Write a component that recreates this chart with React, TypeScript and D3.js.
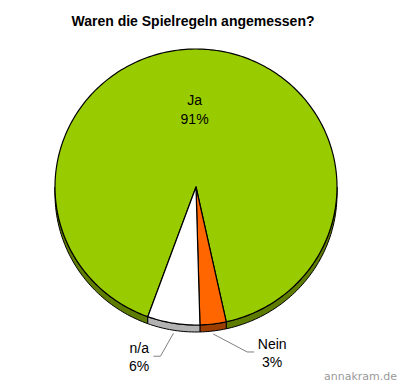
import * as d3 from 'd3';

// chart data
const categories = ['Ja', 'Nein', 'n/a'];
const values = [91, 3, 6];
const percentLabels = ['91%', '3%', '6%'];
const topColors = ['#99cc00', '#ff6600', '#ffffff'];
const sideColors = ['#5e7d00', '#9c3e00', '#b2b2b2'];

const title = 'Waren die Spielregeln angemessen?';

// layout
const width = 400;
const height = 384;
const cx = 196;
const cy = 187;
const rx = 141;
const ry = 138;
const depth = 7;
const startDeg = 200;

type Slice = d3.PieArcDatum<number>;

const pt = (t: number, dy = 0): [number, number] => [cx + rx * Math.sin(t), cy - ry * Math.cos(t) + dy];

function arcPoints(a0: number, a1: number, dy = 0) {
    const n = Math.max(2, Math.ceil(Math.abs(a1 - a0) / 0.02));
    const pts: [number, number][] = [];
    for (let i = 0; i <= n; i++) pts.push(pt(a0 + ((a1 - a0) * i) / n, dy));
    return pts;
}

function topPath(d: Slice) {
    const pts = arcPoints(d.startAngle, d.endAngle);
    return `M${cx},${cy}` + pts.map(p => `L${p[0]},${p[1]}`).join('') + 'Z';
}

// visible front wall of a slice (parametric angles between 90° and 270°)
function sidePaths(d: Slice) {
    const out: string[] = [];
    for (const base of [0, 2 * Math.PI]) {
        const s = Math.max(d.startAngle, base + Math.PI / 2);
        const e = Math.min(d.endAngle, base + (3 * Math.PI) / 2);
        if (e <= s) continue;
        const upper = arcPoints(s, e);
        const lower = arcPoints(e, s, depth);
        out.push('M' + upper.concat(lower).map(p => `${p[0]},${p[1]}`).join('L') + 'Z');
    }
    return out;
}

// leader elbow offsets, relative to the slice's outer edge
const labelOffsets: Record<string, [number, number]> = {
    Nein: [34, 18],
    'n/a': [-13, 23],
};

export default function App() {
    const pie = d3.pie<number>()
        .sort(null)
        .value(d => d)
        .startAngle((startDeg * Math.PI) / 180)
        .endAngle(((startDeg + 360) * Math.PI) / 180);
    const arcs = pie(values);
    const font = '"Liberation Sans", Arial, sans-serif';

    return (
        <svg width={width} height={height} style={{ position: 'absolute', left: 0, top: 0, background: '#fff' }}>
            <text x={193} y={26} textAnchor="middle" fontFamily={font} fontWeight="bold" fontSize={14} fill="#000">
                {title}
            </text>
            {/* sides */}
            {arcs.map((d, i) =>
                sidePaths(d).map((p, j) => (
                    <path key={`s${i}-${j}`} d={p} fill={sideColors[i]} stroke="#000" strokeWidth={1} strokeLinejoin="round" />
                ))
            )}
            {/* tops */}
            {arcs.map((d, i) => (
                <path key={`t${i}`} d={topPath(d)} fill={topColors[i]} stroke="#000" strokeWidth={1.2} strokeLinejoin="round" />
            ))}
            {/* labels */}
            {arcs.map((d, i) => {
                const mid = (d.startAngle + d.endAngle) / 2;
                const cat = categories[i];
                if (cat === 'Ja') {
                    const [lx, ly] = [cx + rx * 0.6 * Math.sin(mid) - 7, cy - ry * 0.6 * Math.cos(mid) + 1];
                    return (
                        <g key={`l${i}`} fontFamily={font} fontSize={14} textAnchor="middle" fill="#000">
                            <text x={lx} y={ly}>{cat}</text>
                            <text x={lx} y={ly + 19}>{percentLabels[i]}</text>
                        </g>
                    );
                }
                const [sx, sy] = pt(mid, depth + 3);
                const [ox, oy] = labelOffsets[cat];
                const ex = sx + ox;
                const ey = sy + oy;
                const dir = ox > 0 ? 1 : -1;
                const hx = ex + dir * 7;
                const w = Math.max(cat.length, percentLabels[i].length) * 7.5;
                const tx = hx + dir * (3 + w / 2);
                return (
                    <g key={`l${i}`}>
                        <polyline points={`${sx},${sy} ${ex},${ey} ${hx},${ey}`} fill="none" stroke="#808080" strokeWidth={1} />
                        <g fontFamily={font} fontSize={14} textAnchor="middle" fill="#000">
                            <text x={tx} y={ey - 3}>{cat}</text>
                            <text x={tx} y={ey + 15}>{percentLabels[i]}</text>
                        </g>
                    </g>
                );
            })}
            <text x={397} y={380} textAnchor="end" fontFamily='"DejaVu Sans", Verdana, sans-serif' fontSize={11} fill="#999">
                annakram.de
            </text>
        </svg>
    );
}
